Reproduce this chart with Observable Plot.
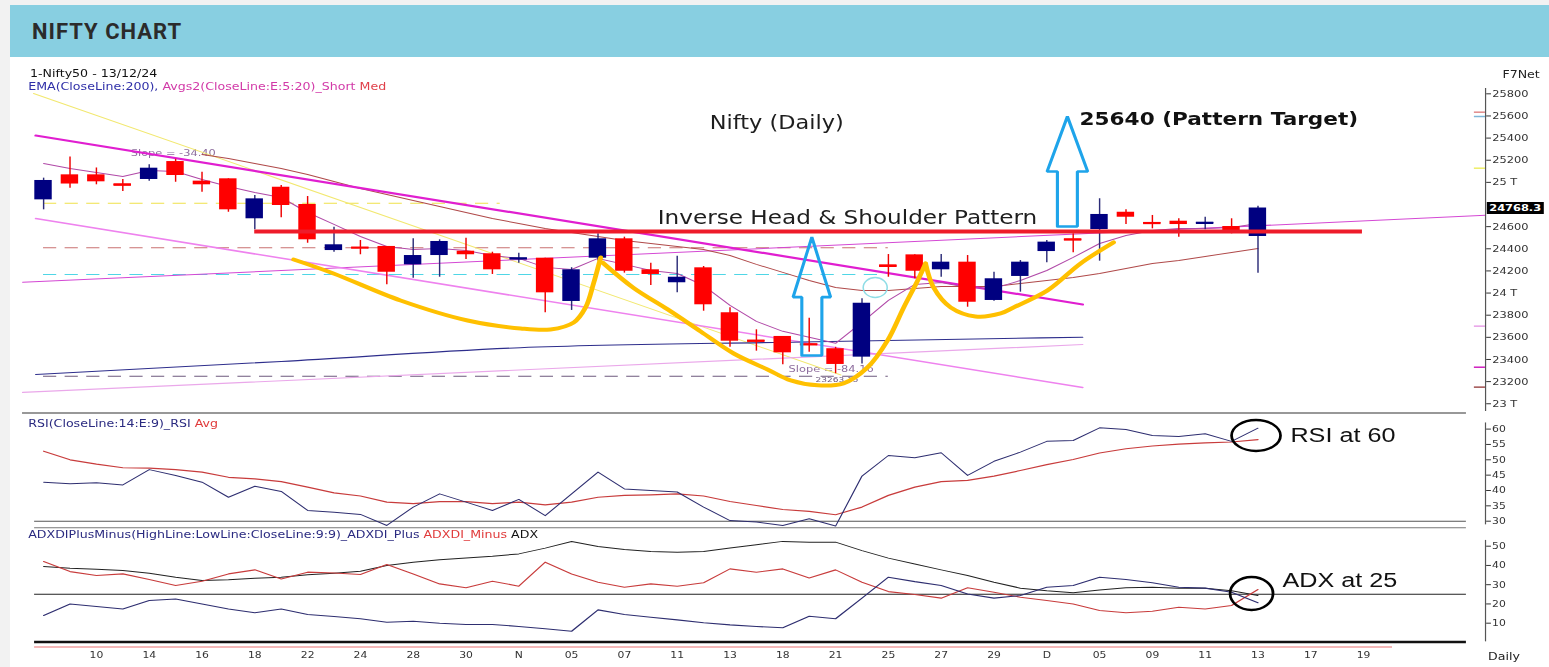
<!DOCTYPE html>
<html>
<head>
<meta charset="utf-8">
<script src="https://cdn.jsdelivr.net/npm/d3@7"></script>
<script src="https://cdn.jsdelivr.net/npm/@observablehq/plot@0.6"></script>
<style>
  html, body { margin:0; padding:0; background:#f2f2f2; }
  #page { position:relative; width:1549px; height:667px; overflow:hidden; background:#f2f2f2; }
  #header { position:absolute; left:10px; top:5px; width:1539px; height:52px; background:#88cfe1; }
  #title { position:absolute; left:22px; top:16px; margin:0; font:700 22px/22px Roboto, "Liberation Sans", sans-serif; color:#2b2b2b; letter-spacing:1px; }
  #white { position:absolute; left:10px; top:57px; width:1539px; height:610px; background:#fff; }
  #stage { position:absolute; left:0; top:0; width:1290.833px; height:667px; transform:scaleX(1.2); transform-origin:0 0; }
  .lbl { position:absolute; font:10.5px/12px "DejaVu Sans", Verdana, sans-serif; white-space:nowrap; color:#111; }
  .box { position:absolute; background:#000; color:#fff; font:bold 9.5px/12px "DejaVu Sans", sans-serif; padding:0 2px; white-space:nowrap; }
</style>
</head>
<body>
<div id="page">
  <div id="header"><h1 id="title">NIFTY CHART</h1></div>
  <div id="white"></div>
  <div id="stage">
    <div class="lbl" style="left:25px;top:67px">1-Nifty50 - 13/12/24</div>
    <div class="lbl" style="left:23.5px;top:80px"><span style="color:#2f2fa8">EMA(CloseLine:200), </span><span style="color:#d23aa8">Avgs2(CloseLine:E:5:20)_Short</span> <span style="color:#e0404a">Med</span></div>
    <div class="lbl" style="left:1252px;top:68px;color:#222">F7Net</div>
    <div class="lbl" style="left:23.5px;top:417px"><span style="color:#2a2a80">RSI(CloseLine:14:E:9)_RSI</span> <span style="color:#e03a3a">Avg</span></div>
    <div class="lbl" style="left:23.5px;top:528px"><span style="color:#2a2a80">ADXDIPlusMinus(HighLine:LowLine:CloseLine:9:9)_ADXDI_Plus</span> <span style="color:#e03a3a">ADXDI_Minus</span> <span style="color:#111">ADX</span></div>
    <div class="lbl" style="left:1240px;top:650px;color:#222">Daily</div>
  </div>
</div>
<script>
// ================= DATA (trading-day index 0 = 08 Oct 2024 ... 46 = 13 Dec 2024) =================
const opens  = [24842,25068,25068,24987,25026,25188,25011,25032,24671,24956,24800,24384,24414,24421,24255,24339,24378,24355,24305,24315,23924,24315,24490,24210,24093,24228,23822,23575,23608,23541,23497,23421,24255,24345,24210,24279,23933,24150,24375,24490,24574,24730,24638,24649,24626,24601,24511];
const highs  = [25038,25230,25130,25026,25159,25209,25092,25032,24881,24972,24872,24595,24475,24421,24490,24481,24496,24369,24360,24315,24229,24535,24505,24270,24333,24240,23867,23668,23608,23773,23510,23948,24348,24345,24348,24339,24188,24294,24475,24535,24852,24752,24701,24671,24685,24671,24785];
const lows   = [24752,24947,24978,24917,25011,25001,24911,24730,24571,24680,24450,24369,24346,24075,24134,24143,24303,24168,24270,23822,23843,24290,24180,24068,24002,23836,23511,23475,23352,23466,23271,23360,24143,24129,24143,23872,23925,24008,24273,24364,24288,24619,24580,24505,24571,24535,24180];
const closes = [25017,24985,25005,24969,25128,25062,24978,24752,24851,24791,24481,24436,24405,24188,24339,24466,24346,24210,24318,24002,24210,24490,24197,24168,24143,23894,23565,23560,23460,23530,23355,23908,24234,24197,24279,23917,24129,24279,24460,24475,24710,24685,24625,24619,24640,24559,24768.3];

const ema5  = [25170,25125,25089,25053,25107,25098,25026,24963,24908,24863,24728,24620,24511,24421,24394,24403,24385,24340,24313,24232,24213,24313,24259,24204,24177,24068,23888,23744,23654,23600,23546,23735,23933,24078,24096,24051,24042,24114,24204,24322,24448,24520,24565,24583,24583,24592,24628];
const ema20 = [null,null,null,null,null,null,25252,25216,25170,25125,25071,25008,24945,24891,24837,24782,24728,24674,24629,24584,24547,24511,24475,24448,24421,24394,24340,24259,24187,24114,24051,24024,24024,24042,24060,24060,24060,24087,24114,24141,24177,24222,24268,24295,24331,24367,24403];
const ema200 = [[-0.3,23264],[9,23382],[18.05,23506],[28.7,23558],[39.36,23601]];

const rsi    = [42.7,42.2,42.5,41.8,46.8,44.9,42.7,37.8,41.4,39.7,33.5,32.9,32.2,28.6,34.6,38.9,36.2,33.5,37.1,31.8,38.9,46.0,40.5,40.0,39.5,34.6,30.2,29.7,28.6,30.8,28.4,44.7,51.4,50.7,52.3,44.9,49.5,52.5,56.0,56.3,60.4,59.9,57.9,57.6,58.5,56.0,60.3];
const rsiAvg = [52.8,50.0,48.6,47.4,47.3,46.8,46.0,44.3,43.8,42.9,41.1,39.2,38.2,36.2,35.7,36.4,36.4,35.7,36.2,35.3,36.2,37.8,38.4,38.6,38.9,38.2,36.4,35.1,33.8,33.2,32.1,34.6,38.4,41.1,42.9,43.3,44.7,46.5,48.4,50.1,52.2,53.6,54.5,55.1,55.5,55.8,56.6];
const adx     = [39.5,38.6,38.0,37.4,36.0,33.9,32.2,32.5,33.4,33.9,35.1,36.0,37.0,40.0,41.7,42.9,43.9,44.8,46.0,49.0,52.4,49.8,48.3,47.2,46.9,47.2,49.0,50.7,52.5,52.1,52.1,47.7,43.8,40.8,37.7,34.8,31.3,28.2,26.8,25.8,27.3,28.4,28.7,28.2,28.2,26.8,24.4];
const diMinus = [42.0,36.8,34.8,35.6,32.7,29.6,31.8,35.6,37.7,33.0,36.5,36.1,35.3,40.5,35.6,30.4,28.4,31.8,29.2,41.7,35.6,31.3,28.7,30.4,29.2,31.0,38.2,36.5,38.2,33.5,37.7,31.3,26.4,24.9,23.0,28.4,26.1,23.5,21.8,20.0,16.6,15.4,16.2,18.3,17.4,19.2,27.5];
const diPlus  = [14.0,20.0,18.7,17.4,21.8,22.6,20.0,17.4,15.4,17.4,14.5,13.5,12.3,10.5,11.0,10.0,9.3,9.3,8.3,7.1,5.8,16.9,14.5,13.1,11.7,10.2,9.1,8.3,7.6,13.6,12.3,23.0,33.9,31.6,29.6,25.2,23.0,24.4,28.7,29.6,33.9,32.7,31.0,28.7,28.2,26.1,20.6];

const xTickIdx    = [2,4,6,8,10,12,14,16,18,20,22,24,26,28,30,32,34,36,38,40,42,44,46,48,50];
const xTickLabels = ["10","14","16","18","22","24","28","30","N","05","07","11","13","18","21","25","27","29","D","05","09","11","13","17","19"];
// 24800 sits under the last-price box, as in the reference
const priceTicks      = [23000,23200,23400,23600,23800,24000,24200,24400,24600,25000,25200,25400,25600,25800];
const priceTickLabels = ["23 T","23200","23400","23600","23800","24 T","24200","24400","24600","25 T","25200","25400","25600","25800"];
const rsiTicks = [30,35,40,45,50,55,60];
const adxTicks = [10,20,30,40,50];

// drawn studies (index, price)
const trendUpper   = [[-0.3,25423],[39.36,23897]];
const channelLower = [[-0.3,24673],[39.36,23147]];
const supportRise  = [[-0.795,23102],[39.36,23535]];
const longRise     = [[-0.795,24097],[54.62,24702]];
const yellowFall   = [[-0.38,25803],[30.2,23259]];
const levelValues  = [24812,24409,24168,23249];
const levelEnds    = [17.3,32,31.6,32];
const neckline     = 24556;
const necklineSpan = [8,49.96];
const leftShoulder = [[9.47,24303],[10.98,24177],[13.52,23933],[16.06,23752],[18.07,23680],[19.2,23671],[20.08,23734],[20.53,23870],[20.83,24086],[21.1,24321]];
const headCurve    = [[21.17,24276],[22.35,24046],[23.64,23852],[24.89,23653],[26.14,23454],[27.42,23310],[28.3,23211],[29.32,23166],[30.3,23184],[31.21,23328],[31.97,23572],[32.58,23870],[33.11,24114],[33.41,24267]];
const rightShoulder= [[33.41,24267],[33.71,24051],[34.36,23870],[35.3,23789],[36.25,23816],[36.74,23870],[38.03,24024],[39.28,24268],[40.53,24458]];
const arrows = [
  {c:29.1, sw:0.38, hw:0.71, base:23436, neck:23963, tip:24505},
  {c:38.78, sw:0.378, hw:0.77, base:24601, neck:25098, tip:25595}
];
const edgeMarks = [25634,25595,25128,23701,23330,23150];

// ================= LAYOUT =================
const S = 1.2;                 // horizontal stretch of the reference
const PW = 1549 / S;
const ML = 22 / S, MR = 64 / S;
const XD = [-0.795, 54.62];
const stage = document.getElementById("stage");
const FONT = "DejaVu Sans, Verdana, sans-serif";
const UP = "#000080", DN = "#ff0000";

const candles = closes.map((c, i) => ({i, o: opens[i], h: highs[i], l: lows[i], c, up: c >= opens[i]}));
const series = (arr) => arr.map((v, i) => ({i, v}));
const pts = (arr) => arr.map(([i, v]) => ({i, v}));
const arrowPts = arrows.flatMap((a, k) => [
  [a.c - a.sw, a.base], [a.c - a.sw, a.neck], [a.c - a.hw, a.neck], [a.c, a.tip],
  [a.c + a.hw, a.neck], [a.c + a.sw, a.neck], [a.c + a.sw, a.base], [a.c - a.sw, a.base]
].map(([i, v]) => ({i, v, k})));
const levelColors = ["#efe14a", "#c97272", "#4fd6e6", "#6e5a7e"];
const edgeColors = ["#e08a8a", "#7fb6d8", "#eeee66", "#e8a0e8", "#d020c0", "#a05050"];

function place(node, top) {
  node.style.position = "absolute";
  node.style.left = "0px";
  node.style.top = top + "px";
  stage.appendChild(node);
}

const baseStyle = {background: "transparent", overflow: "visible", fontFamily: FONT, fontSize: "9.5px", color: "#333"};

// ---------- price panel ----------
const main = Plot.plot({
  width: PW, height: 356, marginLeft: ML, marginRight: MR, marginTop: 31, marginBottom: 0,
  style: baseStyle,
  color: {type: "identity"},
  x: {domain: XD, axis: null},
  y: {domain: [22912, 25848], axis: "right", ticks: priceTicks,
      tickFormat: d => priceTickLabels[priceTicks.indexOf(d)], tickSize: 4, tickPadding: 1.5, label: null},
  marks: [
    Plot.ruleY(levelValues.map((v, k) => ({v, e: levelEnds[k], k})),
      {y: "v", x1: 0, x2: "e", stroke: d => levelColors[d.k], strokeDasharray: "11,7", strokeWidth: 1}),
    Plot.text([{i: 3.3, v: 25263, t: "Slope = -34.40"}, {i: 28.22, v: 23316, t: "Slope = -84.16"}],
      {x: "i", y: "v", text: "t", textAnchor: "start", fontSize: 9.5, fill: "#8e6e9e"}),
    Plot.text([{i: 29.24, v: 23217, t: "23263.15"}],
      {x: "i", y: "v", text: "t", textAnchor: "start", fontSize: 7.5, fill: "#6e5a7e"}),
    Plot.line(pts(yellowFall), {x: "i", y: "v", stroke: "#f2e870", strokeWidth: 1}),
    Plot.line(pts(supportRise), {x: "i", y: "v", stroke: "#eaa8ea", strokeWidth: 1.2}),
    Plot.line(pts(longRise), {x: "i", y: "v", stroke: "#d448d4", strokeWidth: 1}),
    Plot.line(pts(channelLower), {x: "i", y: "v", stroke: "#ee82ee", strokeWidth: 1.6}),
    Plot.line(pts(ema200), {x: "i", y: "v", stroke: "#2e2e8c", strokeWidth: 1.1, curve: "monotone-x"}),
    Plot.line(series(ema20), {x: "i", y: "v", stroke: "#b04a4a", strokeWidth: 1}),
    Plot.line(pts(trendUpper), {x: "i", y: "v", stroke: "#e01ed0", strokeWidth: 2.2}),
    Plot.line(series(ema5), {x: "i", y: "v", stroke: "#b14aa8", strokeWidth: 1}),
    Plot.ruleX(candles, {x: "i", y1: "l", y2: "h", stroke: d => d.up ? "#2c2c78" : "#ee0000", strokeWidth: 1.2}),
    Plot.rect(candles, {x1: d => d.i - 0.33, x2: d => d.i + 0.33, y1: "o", y2: "c", fill: d => d.up ? UP : DN}),
    Plot.ruleY(candles.filter(d => Math.abs(d.o - d.c) < 25),
      {y: d => (d.o + d.c) / 2, x1: d => d.i - 0.33, x2: d => d.i + 0.33, stroke: d => d.up ? UP : DN, strokeWidth: 2}),
    Plot.ruleY([neckline], {x1: necklineSpan[0], x2: necklineSpan[1], stroke: "#ee1c2a", strokeWidth: 4}),
    Plot.line([...pts(leftShoulder).map(d => ({...d, z: 0})), ...pts(headCurve).map(d => ({...d, z: 1})), ...pts(rightShoulder).map(d => ({...d, z: 2}))],
      {x: "i", y: "v", z: "z", curve: "catmull-rom", stroke: "#ffc000", strokeWidth: 4, strokeLinecap: "round"}),
    Plot.line(arrowPts, {x: "i", y: "v", z: "k", stroke: "#1ea4ea", strokeWidth: 2.6, strokeLinejoin: "miter"}),
    Plot.dot([{i: 31.5, v: 24050}], {x: "i", y: "v", r: 10, stroke: "#8fdde6", strokeWidth: 1.3, fill: "none"}),
    Plot.text([{i: 27.77, v: 25532, t: "Nifty (Daily)"}],
      {x: "i", y: "v", text: "t", fontSize: 18.7, fontFamily: FONT, fill: "#1e1e1e"}),
    Plot.text([{i: 30.45, v: 24683, t: "Inverse Head & Shoulder Pattern"}],
      {x: "i", y: "v", text: "t", fontSize: 19.3, fontFamily: FONT, fill: "#1e1e1e"}),
    Plot.text([{i: 39.24, v: 25574, t: "25640 (Pattern Target)"}],
      {x: "i", y: "v", text: "t", textAnchor: "start", fontSize: 18, fontWeight: "bold", fontFamily: FONT, fill: "#111"}),
    Plot.ruleY(edgeMarks.map((v, k) => ({v, k})), {y: "v", x1: 54.2, x2: XD[1], stroke: d => edgeColors[d.k], strokeWidth: 1.5}),
    Plot.ruleY([22917], {x1: XD[0], x2: 53.9, stroke: "#333", strokeWidth: 1}),
    Plot.ruleX([XD[1]], {y1: 22930, y2: 25848, stroke: "#555", strokeWidth: 1})
  ]
});
place(main, 57);

// last price box, placed through the plot's own scales
{
  const px = main.scale("x").apply(XD[1]);
  const py = main.scale("y").apply(closes[closes.length - 1]);
  const box = document.createElement("div");
  box.className = "box";
  box.textContent = "24768.3";
  box.style.left = (px + 1.5) + "px";
  box.style.top = (57 + py - 6) + "px";
  stage.appendChild(box);
}

// ---------- RSI panel ----------
const rsiPlot = Plot.plot({
  width: PW, height: 115, marginLeft: ML, marginRight: MR, marginTop: 0, marginBottom: 0,
  style: {...baseStyle, fontSize: "9px"},
  x: {domain: XD, axis: null},
  y: {domain: [27.62, 65.08], axis: "right", ticks: rsiTicks, tickSize: 4, tickPadding: 1.5, label: null},
  marks: [
    Plot.ruleY([30], {x1: -0.34, x2: 53.9, stroke: "#555"}),
    Plot.ruleY([27.85], {x1: -0.34, x2: 53.9, stroke: "#777"}),
    Plot.ruleX([XD[1]], {y1: 62, y2: 28.8, stroke: "#555"}),
    Plot.line(series(rsiAvg), {x: "i", y: "v", stroke: "#c83c3c", strokeWidth: 1.2}),
    Plot.line(series(rsi), {x: "i", y: "v", stroke: "#2e2e70", strokeWidth: 1}),
    Plot.text([{i: 47.23, v: 57.9, t: "RSI at 60"}],
      {x: "i", y: "v", text: "t", textAnchor: "start", fontSize: 21, fontFamily: "Liberation Sans, Arial, sans-serif", fill: "#111"})
  ]
});
place(rsiPlot, 413);
d3.select(rsiPlot).append("ellipse")
  .attr("cx", rsiPlot.scale("x").apply(45.95)).attr("cy", rsiPlot.scale("y").apply(57.75))
  .attr("rx", 20.4).attr("ry", 15.5).attr("fill", "none").attr("stroke", "#000").attr("stroke-width", 2.3);

// ---------- ADX panel ----------
const adxPlot = Plot.plot({
  width: PW, height: 139, marginLeft: ML, marginRight: MR, marginTop: 0, marginBottom: 26,
  style: {...baseStyle, fontSize: "9px"},
  x: {domain: XD, axis: "bottom", ticks: xTickIdx, tickFormat: d => xTickLabels[xTickIdx.indexOf(d)],
      tickSize: 0, tickPadding: 10, label: null, fontSize: 9.5},
  y: {domain: [0.49, 59.19], axis: "right", ticks: adxTicks, tickSize: 4, tickPadding: 1.5, label: null},
  marks: [
    Plot.ruleY([25], {x1: -0.34, x2: 53.9, stroke: "#222"}),
    Plot.ruleY([0.2], {x1: -0.34, x2: 53.9, stroke: "#111", strokeWidth: 2.6}),
    Plot.ruleY([-2.36], {x1: -0.34, x2: 51.1, stroke: "#f0a0a0", strokeWidth: 1.5}),
    Plot.ruleX([XD[1]], {y1: 53, y2: 0.3, stroke: "#555"}),
    Plot.line(series(adx), {x: "i", y: "v", stroke: "#222", strokeWidth: 1}),
    Plot.line(series(diMinus), {x: "i", y: "v", stroke: "#c83c3c", strokeWidth: 1.1}),
    Plot.line(series(diPlus), {x: "i", y: "v", stroke: "#2e2e70", strokeWidth: 1.1}),
    Plot.text([{i: 46.93, v: 32.2, t: "ADX at 25"}],
      {x: "i", y: "v", text: "t", textAnchor: "start", fontSize: 21, fontFamily: "Liberation Sans, Arial, sans-serif", fill: "#111"})
  ]
});
place(adxPlot, 528);
d3.select(adxPlot).append("ellipse")
  .attr("cx", adxPlot.scale("x").apply(45.78)).attr("cy", adxPlot.scale("y").apply(25.17))
  .attr("rx", 17.9).attr("ry", 16.5).attr("fill", "none").attr("stroke", "#000").attr("stroke-width", 2.3);
</script>
</body>
</html>
